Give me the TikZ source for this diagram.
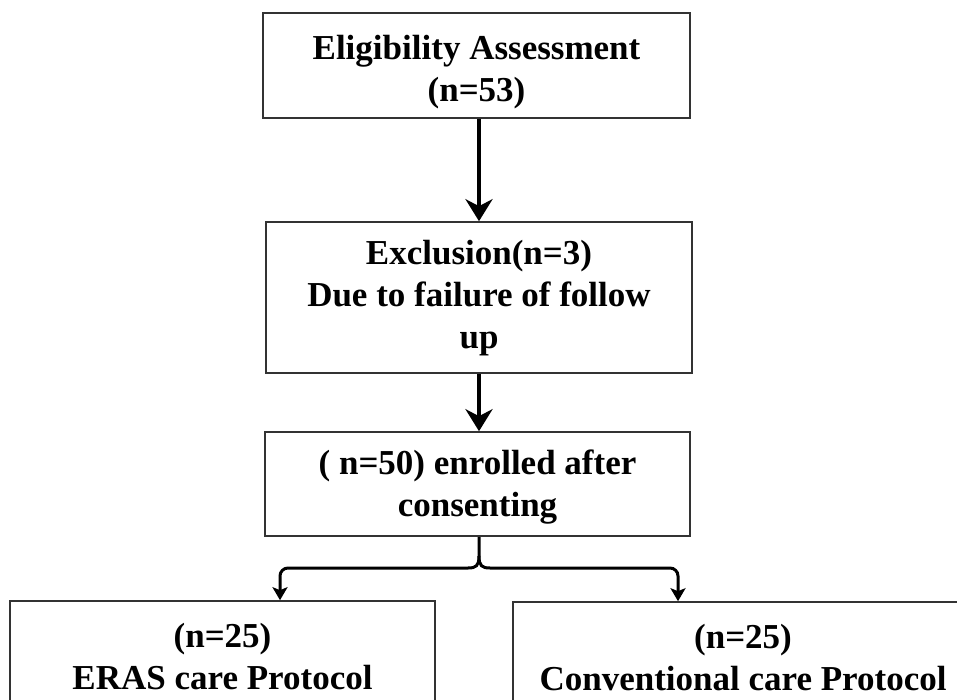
\documentclass[tikz,border=0pt]{standalone}
\usepackage{fontspec}
\setmainfont{Liberation Serif}
\usetikzlibrary{arrows.meta}
\begin{document}
\begin{tikzpicture}[x=1pt,y=-1pt,
  box/.style={draw=black!80,line width=1.6pt,fill=white,inner sep=0pt},
  txt/.style={align=center,inner sep=0pt,font=\fontsize{35}{42}\selectfont\bfseries},
  bigarrow/.style={line width=4pt,-{Stealth[length=22pt,width=27pt,inset=7pt]}},
  smallarrow/.style={line width=3pt,rounded corners=8pt,-{Stealth[length=13pt,width=15pt,inset=3pt]}}]
\useasboundingbox (0,0) rectangle (957,700);
\clip (0,0) rectangle (957,700);
\node[box,minimum width=427pt,minimum height=105pt] (b1) at (476.5,65.5) {};
\node[box,minimum width=426pt,minimum height=151pt] (b2) at (479,297.5) {};
\node[box,minimum width=425pt,minimum height=104pt] (b3) at (477.5,484) {};
\node[box,minimum width=425pt,minimum height=112pt] (b4) at (222.5,657) {};
\node[box,minimum width=460pt,minimum height=112pt] (b5) at (743,658) {};
\node[txt,yshift=-7pt] (t1) at (b1) {Eligibility Assessment\\(n=53)};
\node[txt,yshift=-1pt] (t2) at (b2) {Exclusion(n=3)\\Due to failure of follow\\up};
\node[txt,yshift=-3pt] (t3) at (b3) {( n=50) enrolled after\\consenting};
\node[txt] (t4) at (b4) {(n=25)\\ERAS care Protocol};
\node[txt] (t5) at (b5) {(n=25)\\Conventional care Protocol};
\draw[bigarrow] (b1.south -| 479,0) -- (b2.north -| 479,0);
\draw[bigarrow] (b2.south -| 479,0) -- (b3.north -| 479,0);
\coordinate (tip) at (479,537);
\coordinate (ml) at (280,568);
\coordinate (mr) at (678,568);
\draw[line width=3pt] (tip) -- (479,556) .. controls (479,566) and (476,568) .. (468,568);
\draw[line width=3pt] (479,556) .. controls (479,566) and (482,568) .. (490,568);
\draw[smallarrow] (468,568) -- (ml) -- (b4.north -| ml);
\draw[smallarrow] (490,568) -- (mr) -- (b5.north -| mr);
\end{tikzpicture}
\end{document}
